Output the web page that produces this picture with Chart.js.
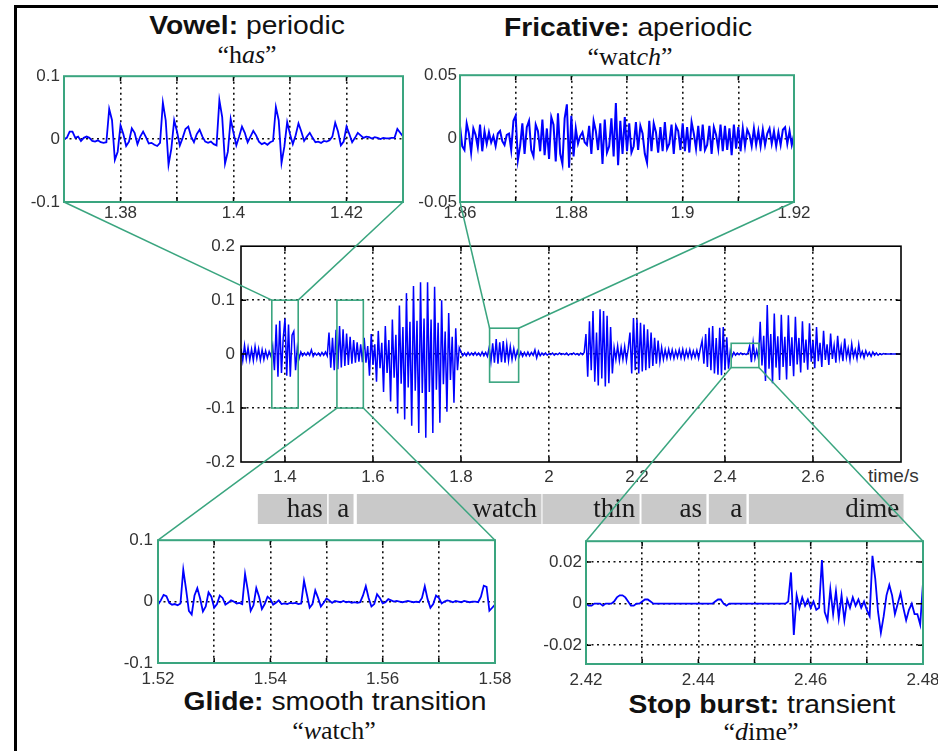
<!DOCTYPE html>
<html>
<head>
<meta charset="utf-8">
<script src="https://cdn.jsdelivr.net/npm/chart.js@4.4.1/dist/chart.umd.min.js"></script>
<style>
  html, body { margin: 0; padding: 0; background: #fff; }
  body { position: relative; width: 938px; height: 751px; overflow: hidden; }
  .box { position: absolute; }
  .frame { position: absolute; left: 14px; top: 5px; width: 940px; height: 760px;
           border-top: 3px solid #000; border-left: 3px solid #000; }
  .ttl { position: absolute; white-space: nowrap; line-height: 1; color: #111;
         font: 25px 'Liberation Sans', Arial, sans-serif;
         transform: translate(-50%, -50%) scaleX(1.13); }
  .q { position: absolute; white-space: nowrap; line-height: 1; color: #111;
       font: 26px 'Liberation Serif', 'Times New Roman', serif;
       transform: translate(-50%, -50%); }
  .unit { position: absolute; left: 868px; top: 465px; color: #333;
          font: 19px 'Liberation Sans', Arial, sans-serif; }
  #links { position: absolute; left: 0; top: 0; pointer-events: none; }
</style>
</head>
<body>
<div class="frame"></div>

<div class="ttl" style="left:247px;top:25px"><b>Vowel:</b> periodic</div>
<div class="q" style="left:247px;top:55px">“h<i>as</i>”</div>
<div class="ttl" style="left:628px;top:27px"><b>Fricative:</b> aperiodic</div>
<div class="q" style="left:630px;top:57px">“wat<i>ch</i>”</div>
<div class="ttl" style="left:335px;top:701px"><b>Glide:</b> smooth transition</div>
<div class="q" style="left:334px;top:731px">“<i>w</i>atch”</div>
<div class="ttl" style="left:762px;top:704px"><b>Stop burst:</b> transient</div>
<div class="q" style="left:761px;top:732px">“<i>d</i>ime”</div>
<div class="unit">time/s</div>

<canvas id="links" width="938" height="751"></canvas>

<script>
// ---- data ----
// full utterance, one sample every 4 ms from 1.30 s
const mainStart = 1.30;
const mainStep = 0.004;
const mainWave = [
  // 1.300 background noise
  0.010,-0.012,0.016,-0.009,0.012,-0.011,0.009,-0.012,0.014,-0.008,0.010,-0.011,0.008,-0.010,0.006,-0.007,0.005,-0.004,
  // 1.372 "has"
  0.015,-0.030,0.055,-0.042,0.062,-0.035,0.030,0.066,-0.040,0.055,-0.042,0.035,0.042,-0.030,
  // 1.428 pause
  0.012,-0.008,0.004,-0.003,0.002,-0.002,0.003,-0.002,0.008,-0.004,0.002,-0.002,0.002,-0.003,0.003,-0.002,0.004,-0.003,
  // 1.500 "a w"
  0.040,-0.025,0.030,-0.030,0.045,-0.028,0.052,-0.025,0.046,-0.022,0.038,-0.020,0.032,-0.018,0.026,-0.016,0.022,-0.014,0.018,-0.015,
  // 1.580 "watch" vowel
  0.030,-0.016,0.015,-0.040,0.037,-0.020,0.018,-0.051,0.043,-0.026,
  0.021,-0.070,0.052,-0.035,0.026,-0.088,0.064,-0.044,0.036,-0.110,
  0.090,-0.055,0.050,-0.121,0.113,-0.062,0.060,-0.133,0.126,-0.068,
  0.062,-0.146,0.133,-0.072,0.066,-0.155,0.133,-0.070,0.064,-0.146,
  0.125,-0.066,0.058,-0.127,0.100,-0.056,0.042,-0.107,0.076,-0.048,
  0.032,-0.090,0.048,-0.030,0.012,
  // 1.800 closure
  0.004,-0.003,0.002,-0.003,0.003,-0.002,0.002,-0.002,0.003,-0.002,0.002,-0.003,0.004,-0.003,0.003,-0.004,
  // 1.864 "ch"
  0.012,-0.014,0.020,-0.016,0.028,-0.018,0.022,-0.015,0.024,-0.016,0.018,-0.012,0.014,-0.010,0.010,-0.008,
  // 1.928 pause
  0.006,-0.005,0.004,-0.004,0.003,-0.003,0.004,-0.003,0.003,-0.002,
  0.008,-0.007,0.005,-0.003,0.002,-0.002,0.002,-0.002,0.001,-0.001,
  0.002,-0.002,0.001,-0.001,0.002,-0.001,0.001,-0.001,0.002,-0.002,
  0.001,-0.001,0.002,-0.001,0.001,-0.002,0.002,-0.001,0.003,
  // 2.084 "thin"
  0.037,-0.042,0.061,-0.030,0.080,-0.051,0.040,-0.058,0.083,-0.045,0.080,-0.060,
  0.071,-0.054,0.050,-0.036,0.012,-0.010,0.015,-0.012,0.012,-0.010,0.014,-0.012,
  // 2.180 "as"
  0.010,0.040,-0.036,0.067,-0.030,0.064,-0.036,0.058,-0.032,0.055,-0.030,0.046,-0.026,0.040,-0.022,
  0.030,-0.018,0.025,-0.014,0.012,-0.010,0.008,-0.008,0.009,-0.007,
  0.008,-0.008,0.006,-0.006,0.008,-0.007,0.009,-0.008,0.007,-0.006,
  0.008,-0.007,0.006,-0.006,0.007,-0.008,0.010,
  // 2.348 "a"
  0.025,-0.018,0.037,-0.024,0.049,-0.030,0.052,-0.036,0.030,-0.038,0.049,-0.039,0.050,-0.030,0.031,-0.027,
  // 2.412 closure + burst
  0.006,-0.005,0.003,-0.002,0.002,-0.001,0.002,-0.001,0.001,-0.001,0.002,
  0.015,-0.015,0.021,-0.008,0.007,-0.008,
  // 2.480 "dime"
  0.060,-0.021,0.034,-0.050,0.091,-0.027,0.037,-0.054,0.075,-0.025,
  0.033,-0.048,0.073,-0.024,0.032,-0.047,0.072,-0.022,0.031,-0.041,
  0.069,-0.019,0.030,-0.034,0.061,-0.016,0.027,-0.029,0.057,-0.014,
  0.025,-0.026,0.050,-0.013,0.021,-0.024,0.043,-0.011,0.018,-0.020,
  0.038,-0.009,0.016,-0.016,0.034,-0.007,0.014,-0.013,0.029,-0.006,
  0.011,-0.011,0.019,-0.005,0.008,-0.009,0.018,-0.004,0.005,-0.007,
  0.006,-0.003,0.003,-0.004,0.004,-0.002,0.002,-0.002,
  // 2.752 silence
  0.001,-0.001,0.001,0,0,0,0,0,0,0,0,0,0
];

// zoomed segments
const vowelStart = 1.37, vowelStep = 0.0005;
const vowelWave = [
  0.000,0.002,0.012,0.012,0.002,0.004,-0.003,0.002,0.004,0.002,
  -0.003,-0.004,-0.002,-0.005,-0.006,-0.005,0.048,0.030,-0.033,-0.020,
  0.022,0.008,-0.011,-0.004,0.017,0.010,-0.008,0.004,0.012,0.003,
  -0.007,-0.006,-0.009,-0.011,-0.006,0.058,0.030,-0.041,-0.015,0.030,
  0.012,-0.010,0.002,0.016,0.020,0.004,-0.005,0.008,0.015,0.004,
  -0.004,-0.006,-0.004,-0.008,-0.010,0.062,0.035,-0.039,-0.020,0.032,
  0.010,-0.010,0.004,0.020,0.010,-0.005,0.004,0.013,0.006,-0.004,
  -0.008,-0.006,-0.009,-0.005,-0.003,0.051,0.030,-0.038,-0.012,0.027,
  0.008,-0.008,0.006,0.025,0.012,-0.003,0.004,0.010,0.002,-0.005,
  -0.004,-0.006,-0.003,-0.004,-0.002,0.004,0.026,0.012,-0.010,-0.004,
  0.020,0.008,-0.005,0.002,0.010,0.006,0.002,0.004,0.003,0.001,
  0.003,0.002,0.000,0.002,0.001,0.001,0.002,0.002,0.016,0.010,
  0.004
];

const fricStart = 1.86, fricStep = 0.0004;
const fricWave = [
  0.010,-0.006,-0.009,0.012,0.004,-0.011,0.008,0.003,-0.007,0.011,-0.010,0.006,-0.004,
  0.005,-0.003,0.002,-0.006,0.004,0.006,-0.002,-0.005,0.003,0.004,
  -0.009,0.014,0.018,-0.017,-0.006,0.012,-0.012,0.009,0.014,-0.009,-0.014,0.011,0.006,-0.010,
  0.015,-0.013,0.008,-0.016,0.017,0.011,-0.018,0.020,-0.012,-0.020,0.016,0.027,-0.023,0.018,
  -0.014,0.008,-0.004,0.002,0.005,-0.003,-0.005,
  0.010,-0.012,0.014,0.006,-0.009,0.012,-0.020,0.015,-0.011,-0.006,0.016,-0.014,0.028,-0.021,0.014,-0.012,0.017,-0.010,
  0.012,-0.011,-0.006,0.013,-0.009,0.010,0.004,-0.012,-0.019,0.014,
  -0.010,0.012,0.005,-0.011,0.009,-0.010,0.013,-0.008,-0.004,0.011,
  -0.012,0.010,0.006,-0.009,0.012,-0.010,0.009,-0.011,0.013,0.004,
  -0.008,0.010,-0.010,0.011,-0.009,-0.005,0.010,-0.012,0.009,0.003,
  -0.008,0.011,-0.010,0.010,-0.009,0.008,-0.013,0.011,-0.008,0.009,
  -0.010,0.008,-0.006,0.007,0.003,-0.006,0.008,-0.005,0.006,-0.006,
  0.007,-0.005,0.004,0.008,-0.004,0.006,-0.006,0.005,-0.005,0.007,
  0.009,-0.004,0.006,-0.005,0.003
];

const glideStart = 1.52, glideStep = 0.0005;
const glideWave = [
  -0.005,0.002,0.011,0.009,-0.002,-0.005,-0.004,-0.006,-0.003,0.052,
  0.020,-0.015,-0.021,0.010,0.022,0.005,-0.016,-0.008,0.015,0.008,
  -0.010,-0.004,0.010,0.006,-0.005,-0.002,0.002,0.000,-0.003,-0.002,
  -0.004,0.045,0.018,-0.015,-0.006,0.022,0.008,-0.012,-0.004,0.008,
  0.004,-0.005,-0.002,0.002,-0.004,-0.003,-0.004,-0.002,-0.003,-0.002,
  -0.004,-0.003,0.034,0.012,-0.010,-0.004,0.018,0.006,-0.008,-0.002,
  0.005,0.002,-0.002,0.001,0.000,-0.001,0.001,-0.001,0.000,-0.002,
  -0.001,-0.002,-0.001,0.010,0.025,0.006,-0.008,-0.004,0.012,0.006,
  -0.003,-0.001,0.004,0.002,0.000,0.001,0.000,-0.001,0.000,0.001,
  0.000,-0.001,0.000,-0.001,0.006,0.025,0.004,-0.010,-0.004,0.010,
  0.006,-0.003,0.000,0.002,0.001,-0.001,0.001,0.000,-0.001,0.001,
  0.000,-0.001,0.000,0.000,-0.001,0.008,0.026,0.024,-0.015,-0.010,
  -0.005
];

const stopStart = 2.42, stopStep = 0.0005;
const stopWave = [
  0.000,-0.001,-0.001,0.000,0.000,0.000,-0.001,0.000,0.000,0.000,
  0.001,0.003,0.004,0.004,0.003,0.001,-0.001,-0.001,0.000,0.000,
  0.001,0.002,0.002,0.001,0.000,0.000,0.000,0.000,0.000,0.000,
  0.000,0.000,0.000,0.000,0.000,0.000,0.000,0.000,0.000,0.000,
  0.000,0.000,0.000,0.000,0.000,0.000,0.001,0.002,0.002,0.000,
  -0.001,0.000,0.000,0.000,0.000,0.000,0.000,0.000,0.000,0.000,
  0.000,0.000,0.000,0.000,0.000,0.000,0.000,0.000,0.000,0.000,
  0.000,0.000,0.001,0.015,-0.015,0.004,-0.002,0.003,-0.001,0.002,
  -0.002,0.001,-0.003,-0.002,0.021,-0.004,-0.008,0.007,-0.005,0.006,
  -0.007,0.004,-0.008,0.002,-0.002,0.003,-0.001,0.002,-0.002,0.001,
  -0.003,-0.006,0.023,0.012,-0.004,-0.014,-0.006,0.004,0.009,0.004,
  -0.005,0.000,0.005,-0.002,-0.008,-0.003,0.000,-0.005,-0.005,-0.010,
  0.010
];

// axes
const mainXTicks = [1.4, 1.6, 1.8, 2, 2.2, 2.4, 2.6];
const mainYTicks = [-0.2, -0.1, 0, 0.1, 0.2];
const vowelXTicks = [1.38, 1.39, 1.4, 1.41, 1.42];
const vowelXLabels = [1.38, 1.4, 1.42];
const fricXTicks = [1.86, 1.87, 1.88, 1.89, 1.9, 1.91, 1.92];
const fricXLabels = [1.86, 1.88, 1.9, 1.92];
const glideXTicks = [1.52, 1.53, 1.54, 1.55, 1.56, 1.57, 1.58];
const glideXLabels = [1.52, 1.54, 1.56, 1.58];
const stopXTicks = [2.42, 2.43, 2.44, 2.45, 2.46, 2.47, 2.48];
const stopXLabels = [2.42, 2.44, 2.46, 2.48];

// zoom boxes on the full waveform: [t0, t1, low, high]
const boxVowel = [1.37, 1.43, -0.1, 0.1];
const boxGlide = [1.518, 1.578, -0.1, 0.1];
const boxFric = [1.865, 1.931, -0.052, 0.048];
const boxStop = [2.414, 2.477, -0.025, 0.02];

// word transcription
const words = ['has', 'a', 'watch', 'thin', 'as', 'a', 'dime'];
const wordStart = [1.339, 1.500, 1.564, 1.986, 2.211, 2.364, 2.455];
const wordEnd = [1.495, 1.555, 1.982, 2.205, 2.357, 2.448, 2.805];

// ---- drawing ----
const BLUE = '#0000ff';
const GREEN = '#3aa57f';
const tickFont = { family: "'Liberation Sans', Arial, sans-serif", size: 17 };

function toPoints(start, step, arr) {
    return arr.map((y, i) => ({ x: +(start + i * step).toFixed(5), y: y }));
}

function mount(left, top, w, h, pad) {
    const div = document.createElement('div');
    div.className = 'box';
    div.style.left = (left - pad[0]) + 'px';
    div.style.top = (top - pad[1]) + 'px';
    div.style.width = (w + pad[0] + pad[2]) + 'px';
    div.style.height = (h + pad[1] + pad[3]) + 'px';
    const cv = document.createElement('canvas');
    div.appendChild(cv);
    document.body.insertBefore(div, document.getElementById('links'));
    return { cv: cv, left: left - pad[0], top: top - pad[1] };
}

function axis(pos, min, max, ticks, labels, grid, size, pad) {
    return {
        type: 'linear', position: pos, min: min, max: max,
        afterBuildTicks: s => { s.ticks = ticks.map(v => ({ value: v })); },
        afterFit: s => { if (pos === 'left') s.width = size; else s.height = size; },
        ticks: {
            autoSkip: false, maxRotation: 0, padding: pad, color: '#333', font: tickFont,
            callback: v => labels.includes(v) ? String(v) : ''
        },
        grid: {
            drawTicks: false, lineWidth: 1.6,
            color: c => (c.tick && grid.includes(c.tick.value)) ? '#111' : 'rgba(0,0,0,0)'
        },
        border: { display: false, dash: [2, 3.5] }
    };
}

// frame, inner tick marks and zoom boxes
const framePlugin = {
    id: 'frame',
    afterDraw(chart, args, opts) {
        const { ctx, chartArea: a } = chart;
        ctx.save();
        ctx.strokeStyle = '#000';
        ctx.lineWidth = 1.5;
        (opts.xMarks || []).forEach(v => {
            const x = chart.scales.x.getPixelForValue(v);
            ctx.beginPath();
            ctx.moveTo(x, a.bottom); ctx.lineTo(x, a.bottom - 5);
            ctx.moveTo(x, a.top); ctx.lineTo(x, a.top + 5);
            ctx.stroke();
        });
        (opts.yMarks || []).forEach(v => {
            const y = chart.scales.y.getPixelForValue(v);
            ctx.beginPath();
            ctx.moveTo(a.left, y); ctx.lineTo(a.left + 5, y);
            ctx.moveTo(a.right, y); ctx.lineTo(a.right - 5, y);
            ctx.stroke();
        });
        ctx.strokeStyle = opts.color;
        ctx.lineWidth = opts.width;
        ctx.strokeRect(a.left, a.top, a.right - a.left, a.bottom - a.top);
        ctx.strokeStyle = GREEN;
        ctx.lineWidth = 1.6;
        (opts.boxes || []).forEach(b => {
            const x0 = chart.scales.x.getPixelForValue(b[0]);
            const x1 = chart.scales.x.getPixelForValue(b[1]);
            const y0 = chart.scales.y.getPixelForValue(b[3]);
            const y1 = chart.scales.y.getPixelForValue(b[2]);
            ctx.strokeRect(x0, y0, x1 - x0, y1 - y0);
        });
        ctx.restore();
    }
};

function waveChart(m, cfg) {
    m.chart = new Chart(m.cv.getContext('2d'), {
        type: 'line',
        data: {
            datasets: [{
                data: cfg.points, borderColor: BLUE, borderWidth: cfg.lw,
                pointRadius: 0, tension: 0, fill: false
            }]
        },
        options: {
            responsive: true, maintainAspectRatio: false, animation: false,
            layout: { padding: { left: 0, top: cfg.pad[1], right: cfg.pad[2], bottom: 0 } },
            plugins: {
                legend: { display: false }, tooltip: { enabled: false },
                frame: { color: cfg.frame, width: cfg.frameW, xMarks: cfg.xMarks, yMarks: cfg.yMarks, boxes: cfg.boxes }
            },
            scales: {
                x: axis('bottom', cfg.xr[0], cfg.xr[1], cfg.xTicks, cfg.xLabels, cfg.xGrid, cfg.pad[3], cfg.xPad),
                y: axis('left', cfg.yr[0], cfg.yr[1], cfg.yTicks, cfg.yLabels, cfg.yGrid, cfg.pad[0], cfg.yPad)
            }
        },
        plugins: [framePlugin]
    });
    return m;
}

// main waveform
const mainPad = [60, 12, 30, 32];
const main = waveChart(mount(241, 242, 660, 220, mainPad), {
    points: toPoints(mainStart, mainStep, mainWave), lw: 1.5, pad: mainPad,
    xr: [1.3, 2.8], yr: [-0.2, 0.2],
    xTicks: mainXTicks, xLabels: mainXTicks, xGrid: mainXTicks, xPad: 5,
    yTicks: mainYTicks, yLabels: mainYTicks, yGrid: [-0.1, 0, 0.1], yPad: 6,
    frame: '#000', frameW: 1.6, xMarks: mainXTicks, yMarks: [-0.1, 0, 0.1],
    boxes: [boxVowel, boxGlide, boxFric, boxStop]
});

const insetPad = [52, 12, 26, 30];
const vowel = waveChart(mount(64, 74, 339, 128, insetPad), {
    points: toPoints(vowelStart, vowelStep, vowelWave), lw: 1.8, pad: insetPad,
    xr: [1.37, 1.43], yr: [-0.1, 0.1],
    xTicks: vowelXTicks, xLabels: vowelXLabels, xGrid: vowelXTicks, xPad: 1,
    yTicks: [-0.1, 0, 0.1], yLabels: [-0.1, 0, 0.1], yGrid: [0], yPad: 4,
    frame: GREEN, frameW: 2, xMarks: vowelXTicks
});

const fric = waveChart(mount(460, 74, 334, 128, insetPad), {
    points: toPoints(fricStart, fricStep, fricWave), lw: 2, pad: insetPad,
    xr: [1.86, 1.92], yr: [-0.05, 0.05],
    xTicks: fricXTicks, xLabels: fricXLabels, xGrid: fricXTicks.slice(1, -1), xPad: 1,
    yTicks: [-0.05, 0, 0.05], yLabels: [-0.05, 0, 0.05], yGrid: [0], yPad: 3,
    frame: GREEN, frameW: 2, xMarks: fricXTicks.slice(1, -1)
});

const glide = waveChart(mount(158, 537, 337, 126, insetPad), {
    points: toPoints(glideStart, glideStep, glideWave), lw: 1.8, pad: insetPad,
    xr: [1.52, 1.58], yr: [-0.1, 0.1],
    xTicks: glideXTicks, xLabels: glideXLabels, xGrid: glideXTicks.slice(1, -1), xPad: 6,
    yTicks: [-0.1, 0, 0.1], yLabels: [-0.1, 0, 0.1], yGrid: [0], yPad: 5,
    frame: GREEN, frameW: 2, xMarks: glideXTicks.slice(1, -1)
});

const stop = waveChart(mount(586, 539, 337, 125, insetPad), {
    points: toPoints(stopStart, stopStep, stopWave), lw: 1.8, pad: insetPad,
    xr: [2.42, 2.48], yr: [-0.029, 0.03],
    xTicks: stopXTicks, xLabels: stopXLabels, xGrid: stopXTicks.slice(1, -1), xPad: 6,
    yTicks: [-0.02, 0, 0.02], yLabels: [-0.02, 0, 0.02], yGrid: [-0.02, 0, 0.02], yPad: 4,
    frame: GREEN, frameW: 2, xMarks: stopXTicks.slice(1, -1), yMarks: [-0.02, 0, 0.02]
});

// word bar, same time scale as the main plot
const wordLabels = {
    id: 'wordLabels',
    afterDatasetsDraw(chart) {
        const { ctx, chartArea: a } = chart;
        ctx.save();
        ctx.fillStyle = '#1a1a1a';
        ctx.font = "27px 'Liberation Serif', 'Times New Roman', serif";
        ctx.textAlign = 'right';
        ctx.textBaseline = 'alphabetic';
        words.forEach((w, i) => {
            ctx.fillText(w, chart.scales.x.getPixelForValue(wordEnd[i]) - 4, a.bottom - 7);
        });
        ctx.restore();
    }
};
const wm = mount(241, 494, 1.51 * 440, 30, [0, 0, 0, 0]);
new Chart(wm.cv.getContext('2d'), {
    type: 'bar',
    data: {
        labels: ['words'],
        datasets: words.map((w, i) => ({
            data: [[wordStart[i], wordEnd[i]]], backgroundColor: '#c9c9c9', borderWidth: 0,
            barPercentage: 1, categoryPercentage: 1, grouped: false
        }))
    },
    options: {
        indexAxis: 'y', responsive: true, maintainAspectRatio: false, animation: false,
        layout: { padding: 0 },
        plugins: { legend: { display: false }, tooltip: { enabled: false } },
        scales: { x: { type: 'linear', min: 1.3, max: 2.81, display: false }, y: { display: false } }
    },
    plugins: [wordLabels]
});

// green lines from each zoom box to its inset
function corner(m, side, edge) {
    const a = m.chart.chartArea;
    return [m.left + (side === 'l' ? a.left : a.right), m.top + (edge === 't' ? a.top : a.bottom)];
}
function boxPt(b, side, edge) {
    return [main.left + main.chart.scales.x.getPixelForValue(side === 'l' ? b[0] : b[1]),
            main.top + main.chart.scales.y.getPixelForValue(edge === 't' ? b[3] : b[2])];
}
const lctx = document.getElementById('links').getContext('2d');
lctx.strokeStyle = GREEN;
lctx.lineWidth = 1.5;
[
    [corner(vowel, 'l', 'b'), boxPt(boxVowel, 'l', 't')],
    [corner(vowel, 'r', 'b'), boxPt(boxVowel, 'r', 't')],
    [corner(fric, 'l', 'b'), boxPt(boxFric, 'l', 't')],
    [corner(fric, 'r', 'b'), boxPt(boxFric, 'r', 't')],
    [corner(glide, 'l', 't'), boxPt(boxGlide, 'l', 'b')],
    [corner(glide, 'r', 't'), boxPt(boxGlide, 'r', 'b')],
    [corner(stop, 'l', 't'), boxPt(boxStop, 'l', 'b')],
    [corner(stop, 'r', 't'), boxPt(boxStop, 'r', 'b')]
].forEach(s => {
    lctx.beginPath();
    lctx.moveTo(s[0][0], s[0][1]);
    lctx.lineTo(s[1][0], s[1][1]);
    lctx.stroke();
});
</script>
</body>
</html>
